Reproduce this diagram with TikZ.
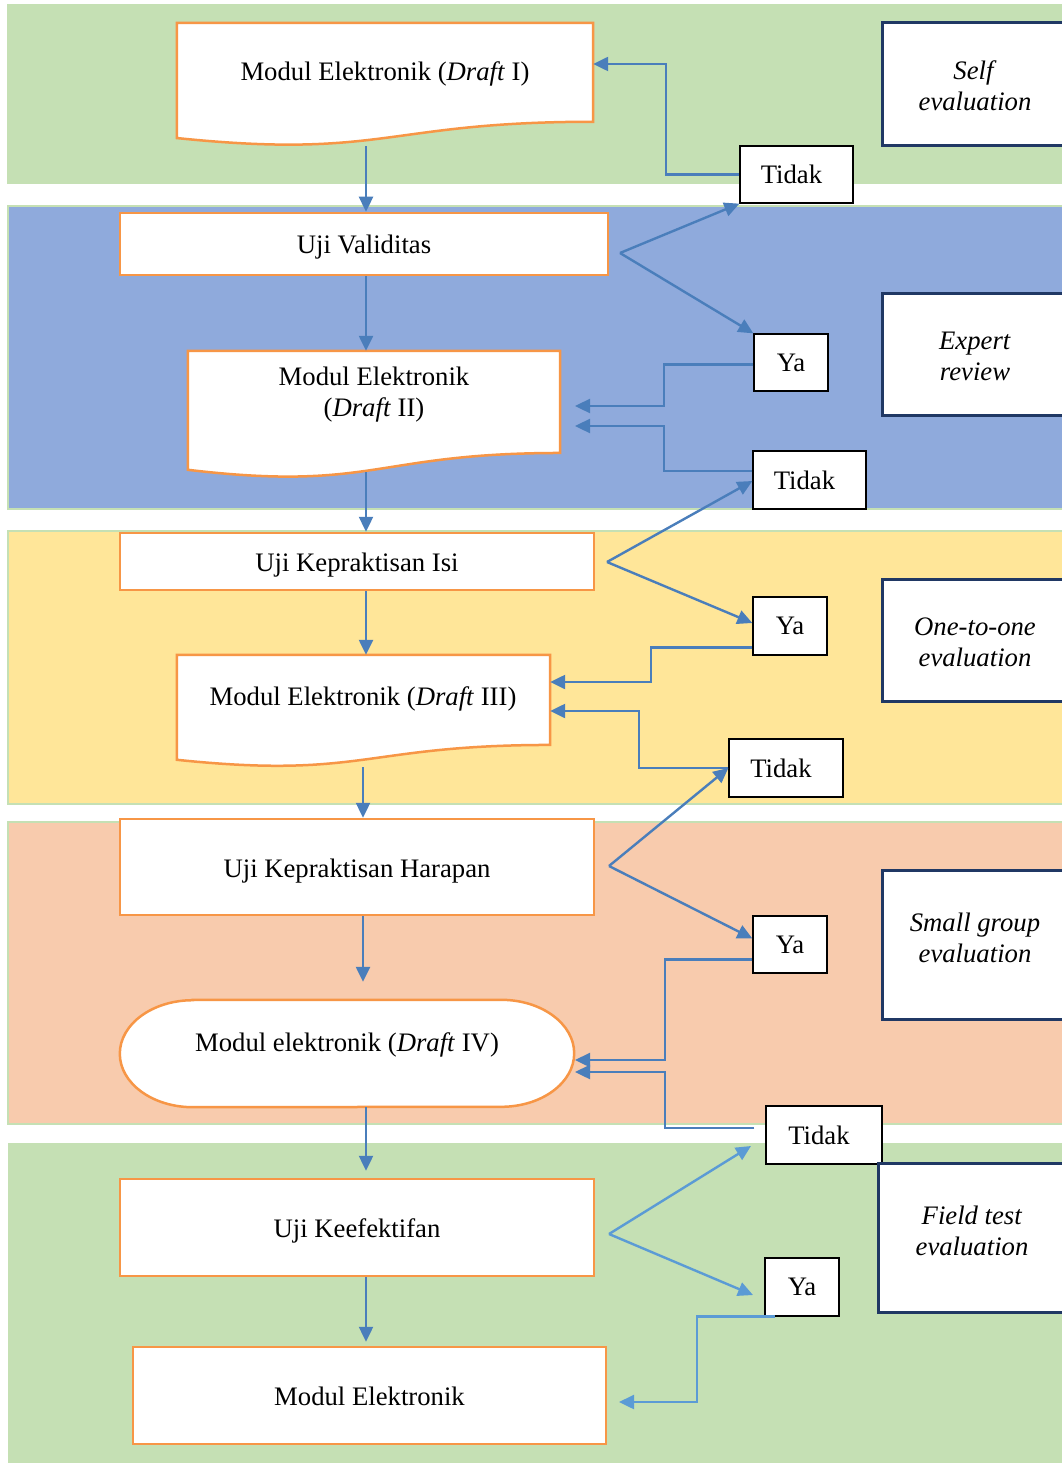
\documentclass[tikz,border=0pt]{standalone}
\usepackage{fontspec}
\setmainfont{Liberation Serif}
\usetikzlibrary{arrows.meta,calc}
\definecolor{bgreen}{HTML}{C5E0B4}
\definecolor{bblue}{HTML}{8FAADC}
\definecolor{byellow}{HTML}{FFE699}
\definecolor{bsalmon}{HTML}{F8CBAD}
\definecolor{orng}{HTML}{F79646}
\definecolor{navy}{HTML}{203864}
\definecolor{arr}{HTML}{4A7EBB}
\definecolor{arrl}{HTML}{5B9BD5}
\newcommand\mkbox[7]{%
  \pgfmathsetmacro\mbcx{(#3+#5)/2}\pgfmathsetmacro\mbcy{(#4+#6)/2}%
  \pgfmathsetmacro\mbww{#5-#3}\pgfmathsetmacro\mbhh{#6-#4}%
  \node[#2, minimum width=\mbww pt, minimum height=\mbhh pt] (#1) at (\mbcx,\mbcy) {#7};}
\newcommand\mkdoc[5]{%
  \mkbox{#1}{ghost}{#2}{#3}{#4}{#3+#5}{}%
  \draw[docline] (#1.north west) -- (#1.north east) -- ($(#1.north east)!0.802!(#1.south east)$)
    .. controls ($(#1.north)!0.802!(#1.south)$) and ($(#1.north)!1.1075!(#1.south)$) ..
    ($(#1.north west)!0.934!(#1.south west)$) -- cycle;}
\begin{document}
\begin{tikzpicture}[x=1pt,y=-1pt,font=\fontsize{26.7}{31}\selectfont,
  band/.style={draw=bgreen, line width=2.5pt},
  ghost/.style={draw=none, inner sep=0pt},
  procbox/.style={draw=orng, line width=2.5pt, fill=white, inner sep=0pt, text height=20pt, text depth=0pt},
  docline/.style={draw=orng, line width=2.5pt, fill=white},
  smallbox/.style={draw=black, line width=1.3pt, fill=white, inner sep=0pt},
  evalbox/.style={draw=navy, line width=3pt, fill=white, inner sep=0pt},
  txt/.style={inner sep=0pt, align=center},
  conn/.style={draw=arr, line width=2.4pt, -{Triangle[length=15pt,width=14pt]}},
  connl/.style={conn, draw=arrl}]
\useasboundingbox (0,0) rectangle (1061,1463);
% bands
\path[band, fill=bgreen] (8,5) rectangle (1075,183);
\path[band, fill=bblue] (8,206) rectangle (1075,509);
\path[band, fill=byellow] (8,531) rectangle (1075,804);
\path[band, fill=bsalmon] (8,822) rectangle (1075,1124);
\path[band, fill=bgreen] (9,1144) rectangle (1075,1475);
% axes for vertical arrows
\coordinate (ax) at (366,0);
\coordinate (axb) at (363,0);
% documents
\mkdoc{d1}{177}{23}{593}{123}
\node[txt] (d1t) at (385,74) {Modul Elektronik (\textit{Draft} I)};
\mkdoc{d2}{188}{351}{560}{127}
\node[txt] (d2t) at (374,395) {Modul Elektronik\\(\textit{Draft} II)};
\mkdoc{d3}{177}{655}{550}{112}
\node[txt] (d3t) at (363,699) {Modul Elektronik (\textit{Draft} III)};
% process boxes
\mkbox{uv}{procbox}{120}{213}{608}{275}{Uji Validitas}
\mkbox{uki}{procbox}{120}{533}{594}{590}{Uji Kepraktisan Isi}
\mkbox{ukh}{procbox}{120}{819}{594}{915}{Uji Kepraktisan Harapan}
\mkbox{uk}{procbox}{120}{1179}{594}{1276}{Uji Keefektifan}
\mkbox{fin}{procbox}{133}{1347}{606}{1444}{Modul Elektronik}
% terminal
\mkbox{term}{ghost}{120}{1000}{574}{1107}{}
\draw[docline] ($(term.north west)+(73,0)$) -- ($(term.north east)+(-73,0)$)
  arc[start angle=-90,end angle=90,x radius=73,y radius=53.5]
  -- ($(term.south west)+(73,0)$)
  arc[start angle=90,end angle=270,x radius=73,y radius=53.5] -- cycle;
\node[txt] (termt) at (347,1045) {Modul elektronik (\textit{Draft} IV)};
% small decision boxes
\mkbox{t1}{smallbox}{740}{146}{853}{203}{Tidak\hspace*{10pt}}
\mkbox{y1}{smallbox}{754}{334}{828}{391}{Ya}
\mkbox{t2}{smallbox}{753}{451}{866}{509}{Tidak\hspace*{10pt}}
\mkbox{y2}{smallbox}{753}{597}{827}{655}{Ya}
\mkbox{t3}{smallbox}{729}{739}{843}{797}{Tidak\hspace*{10pt}}
\mkbox{y3}{smallbox}{753}{916}{827}{973}{Ya}
\mkbox{t4}{smallbox}{766}{1106}{882}{1164}{Tidak\hspace*{10pt}}
\mkbox{y4}{smallbox}{765}{1258}{839}{1316}{Ya}
% evaluation boxes
\mkbox{e1}{evalbox}{882}{23}{1068}{146}{}
\node[txt] (e1t) at (975,86) {\textit{Self}\\\textit{evaluation}};
\mkbox{e2}{evalbox}{882}{293}{1068}{415}{}
\node[txt] (e2t) at (975,356) {\textit{Expert}\\\textit{review}};
\mkbox{e3}{evalbox}{882}{579}{1068}{701}{}
\node[txt] (e3t) at (975,642) {\textit{One-to-one}\\\textit{evaluation}};
\mkbox{e4}{evalbox}{882}{870}{1068}{1019}{}
\node[txt] (e4t) at (975,938) {\textit{Small group}\\\textit{evaluation}};
\mkbox{e5}{evalbox}{878}{1163}{1066}{1312}{}
\node[txt] (e5t) at (972,1231) {\textit{Field test}\\\textit{evaluation}};
% V apexes and free ends
\coordinate (v1) at (620,253);
\coordinate (v2) at (607,562);
\coordinate (v3) at (609,866);
\coordinate (v4) at (609,1234);
\coordinate (d2a) at (575,406);
\coordinate (d2b) at (575,426);
\coordinate (tma) at (575,1060);
\coordinate (tmb) at (575,1072);
\coordinate (t4in) at (751,1146);
\coordinate (y4in) at (753,1295);
\coordinate (fina) at (619,1402);
% vertical flow
\draw[conn] (d1.south -| ax) -- (uv.north -| ax);
\draw[conn] (uv.south -| ax) -- (d2.north -| ax);
\draw[conn] ($(d2.south -| ax)+(0,-6)$) -- (uki.north -| ax);
\draw[conn] (uki.south -| ax) -- (d3.north -| ax);
\draw[conn] (d3.south -| axb) -- (ukh.north -| axb);
\draw[conn] (ukh.south -| axb) -- ($(term.north -| axb)+(0,-18)$);
\draw[conn] (term.south -| ax) -- ($(uk.north -| ax)+(0,-7)$);
\draw[conn] (uk.south -| ax) -- ($(fin.north -| ax)+(0,-4)$);
% feedback Tidak1
\draw[conn] (t1.west) -| (666,64) -- (d1.east |- 0,64);
% V1
\draw[conn] (v1) -- (t1.south west);
\draw[conn] (v1) -- (y1.north west);
\draw[conn] ($(y1.west)+(0,2)$) -| ($(d2a)+(89,0)$) -- (d2a);
\draw[conn] ($(t2.west)+(0,-9)$) -| ($(d2b)+(89,0)$) -- (d2b);
% V2
\draw[conn] (v2) -- ($(t2.west)+(0,1)$);
\draw[conn] (v2) -- ($(y2.west)+(0,-3)$);
\draw[conn] ($(y2.south west)+(0,-8)$) -| ($(d3.east)+(101,-29)$) -- ($(d3.east)+(0,-29)$);
\draw[conn] (t3.west) -| ($(d3.east)+(89,0)$) -- (d3.east);
% V3
\draw[conn] (v3) -- (t3.west);
\draw[conn] (v3) -- ($(y3.west)+(0,-6)$);
\draw[conn] ($(y3.west)+(0,15)$) -| ($(tma)+(90,0)$) -- (tma);
\draw[conn] ($(t4.west)+(-11,-7)$) -| ($(tmb)+(90,0)$) -- (tmb);
% V4
\draw[connl] (v4) -- (t4in);
\draw[connl] (v4) -- (y4in);
\draw[connl] ($(y4.south west)+(11,0)$) -| ($(fina)+(78,0)$) -- (fina);
\end{tikzpicture}
\end{document}
